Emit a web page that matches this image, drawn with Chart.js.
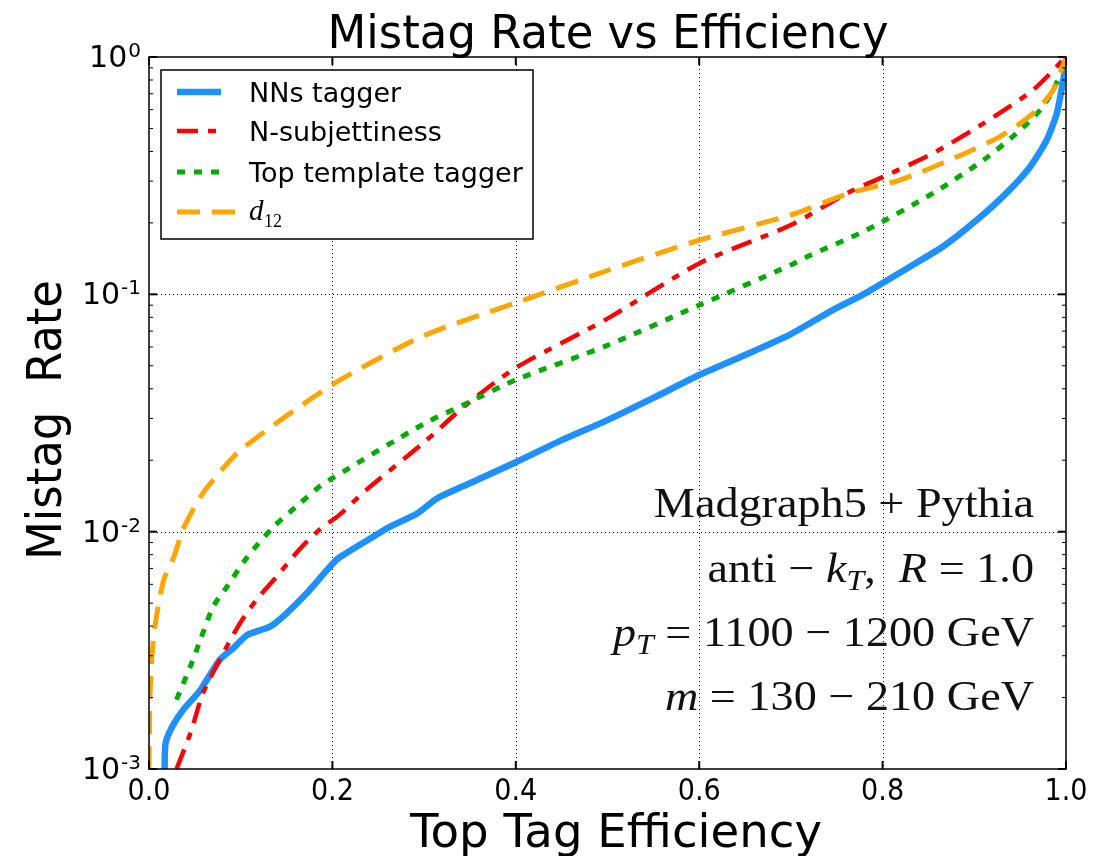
<!DOCTYPE html>
<html lang="en">
<head>
    <meta charset="UTF-8">
    <title>Mistag Rate vs Efficiency</title>
    <script src="https://cdn.jsdelivr.net/npm/chart.js"></script>
    <style>
        * {
            margin: 0;
            padding: 0;
            box-sizing: border-box;
        }
        body {
            background: #fff;
            width: 1107px;
            height: 856px;
            overflow: hidden;
        }
        canvas {
            display: block;
        }
    </style>
</head>
<body>
    <canvas id="rocChart" width="1107" height="856"></canvas>

    <script>
        // NNs tagger
        const nnsEff = [0.017, 0.018, 0.025, 0.037, 0.056, 0.077, 0.092, 0.107, 0.132, 0.150, 0.172, 0.197, 0.208,
            0.244, 0.263, 0.292, 0.314, 0.35, 0.40, 0.45, 0.50, 0.55, 0.60, 0.65, 0.70, 0.746, 0.779, 0.83,
            0.866, 0.903, 0.935, 0.961, 0.979, 0.990, 0.997, 1.0];
        const nnsMistag = [0.00100, 0.00128, 0.00150, 0.00177, 0.00215, 0.00288, 0.00323, 0.00367, 0.00398, 0.00453,
            0.0055, 0.0071, 0.0078, 0.0095, 0.0105, 0.0119, 0.0138, 0.0160, 0.0196, 0.0243, 0.0295, 0.0366,
            0.0457, 0.0555, 0.068, 0.086, 0.100, 0.131, 0.159, 0.206, 0.267, 0.345, 0.447, 0.579, 0.80, 0.94];

        // N-subjettiness
        const nsubEff = [0.030, 0.045, 0.059, 0.077, 0.099, 0.117, 0.139, 0.165, 0.186, 0.208, 0.237, 0.30, 0.345,
            0.40, 0.50, 0.60, 0.70, 0.764, 0.801, 0.855, 0.91, 0.964, 1.0];
        const nsubMistag = [0.00100, 0.00141, 0.00209, 0.00288, 0.0041, 0.00515, 0.00645, 0.0085, 0.0102, 0.0118,
            0.0150, 0.0238, 0.034, 0.049, 0.079, 0.135, 0.196, 0.27, 0.313, 0.393, 0.525, 0.726, 1.0];

        // Top template tagger
        const templEff = [0.030, 0.045, 0.056, 0.070, 0.085, 0.107, 0.136, 0.165, 0.186, 0.20, 0.30, 0.345, 0.40,
            0.50, 0.60, 0.70, 0.721, 0.783, 0.855, 0.91, 0.946, 0.972, 0.986, 0.997, 1.0];
        const templMistag = [0.00196, 0.0027, 0.0035, 0.00483, 0.00586, 0.0078, 0.0105, 0.0132, 0.0155, 0.0168,
            0.0285, 0.0345, 0.0436, 0.061, 0.090, 0.133, 0.146, 0.187, 0.267, 0.368, 0.477, 0.598, 0.726, 0.91, 1.0];

        // d12
        const d12Eff = [0.0, 0.001, 0.003, 0.0065, 0.016, 0.027, 0.037, 0.056, 0.07, 0.10, 0.20, 0.30, 0.40, 0.50,
            0.60, 0.70, 0.764, 0.819, 0.873, 0.928, 0.964, 0.986, 1.0];
        const d12Mistag = [0.00100, 0.0020, 0.0029, 0.0040, 0.00625, 0.0078, 0.0102, 0.0140, 0.0165, 0.0221, 0.0416,
            0.067, 0.092, 0.126, 0.169, 0.216, 0.267, 0.303, 0.368, 0.462, 0.579, 0.726, 1.0];

        const xTicks = [0.0, 0.2, 0.4, 0.6, 0.8, 1.0];
        const yTicks = [1, 0.1, 0.01, 0.001];
        const yTickExp = ['0', '-1', '-2', '-3'];

        const SANS = '"DejaVu Sans", sans-serif';
        const SERIF = '"Liberation Serif", serif';

        const toPoints = (xs, ys) => xs.map((x, i) => ({ x: x, y: ys[i] }));

        // text lines in the lower right corner: [text, style]
        const notes = [
            [['Madgraph5 + Pythia', 'r']],
            [['anti \u2212 ', 'r'], ['k', 'i'], ['T', 'sub'], [',  ', 'r'], ['R', 'i'], [' = 1.0', 'r']],
            [['p', 'i'], ['T', 'sub'], [' = 1100 \u2212 1200 GeV', 'r']],
            [['m', 'i'], [' = 130 \u2212 210 GeV', 'r']]
        ];
        const noteBaselines = [517, 582, 646, 710];

        // mixed roman / italic / subscript line, right aligned, stretched a little
        function drawRich(ctx, parts, right, baseline, size, stretch) {
            const fontFor = k => k === 'r' ? `${size}px ${SERIF}`
                : k === 'i' ? `italic ${size}px ${SERIF}`
                : `italic ${Math.round(size * 0.7)}px ${SERIF}`;
            let width = 0;
            parts.forEach(([t, k]) => { ctx.font = fontFor(k); width += ctx.measureText(t).width; });
            ctx.save();
            ctx.translate(right, 0);
            ctx.scale(stretch, 1);
            let x = -width;
            parts.forEach(([t, k]) => {
                ctx.font = fontFor(k);
                ctx.fillText(t, x, k === 'sub' ? baseline + size * 0.2 : baseline);
                x += ctx.measureText(t).width;
            });
            ctx.restore();
        }

        function seg(ctx, x1, y1, x2, y2) {
            ctx.beginPath();
            ctx.moveTo(x1, y1);
            ctx.lineTo(x2, y2);
            ctx.stroke();
        }

        // frame, ticks, grid, labels, legend (matplotlib style)
        const axesDecor = {
            id: 'axesDecor',
            beforeDatasetsDraw(chart) {
                const { ctx, chartArea: a, scales: { x, y } } = chart;
                ctx.save();
                ctx.strokeStyle = '#000';
                ctx.lineWidth = 1;
                ctx.setLineDash([1, 3]);
                xTicks.slice(1, -1).forEach(v => {
                    const px = Math.round(x.getPixelForValue(v)) + 0.5;
                    seg(ctx, px, a.top, px, a.bottom);
                });
                yTicks.slice(1, -1).forEach(v => {
                    const py = Math.round(y.getPixelForValue(v)) + 0.5;
                    seg(ctx, a.left, py, a.right, py);
                });
                ctx.restore();
            },
            afterDraw(chart) {
                const { ctx, chartArea: a, scales: { x, y } } = chart;
                ctx.save();
                ctx.strokeStyle = '#000';
                ctx.fillStyle = '#000';

                // ticks
                ctx.lineWidth = 2;
                xTicks.forEach(v => {
                    const px = x.getPixelForValue(v);
                    seg(ctx, px, a.bottom, px, a.bottom - 8);
                    seg(ctx, px, a.top, px, a.top + 8);
                });
                yTicks.forEach(v => {
                    const py = y.getPixelForValue(v);
                    seg(ctx, a.left, py, a.left + 8, py);
                    seg(ctx, a.right, py, a.right - 8, py);
                });
                ctx.lineWidth = 1;
                [0.001, 0.01, 0.1].forEach(d => {
                    for (let k = 2; k <= 9; k++) {
                        const py = y.getPixelForValue(k * d);
                        seg(ctx, a.left, py, a.left + 4, py);
                        seg(ctx, a.right, py, a.right - 4, py);
                    }
                });

                // frame
                ctx.lineWidth = 1.5;
                ctx.strokeRect(a.left, a.top, a.right - a.left, a.bottom - a.top);

                // x tick labels
                ctx.textAlign = 'center';
                ctx.textBaseline = 'alphabetic';
                ctx.font = `30px ${SANS}`;
                xTicks.forEach(v => {
                    ctx.fillText(v.toFixed(1), x.getPixelForValue(v), 800, 43);
                });

                // y tick labels 10^n
                yTicks.forEach((v, i) => {
                    const py = y.getPixelForValue(v);
                    ctx.textAlign = 'right';
                    ctx.font = `20px ${SANS}`;
                    const expW = ctx.measureText(yTickExp[i]).width;
                    ctx.fillText(yTickExp[i], 141, py);
                    ctx.font = `30px ${SANS}`;
                    ctx.fillText('10', 141 - expW - 1, py + 10);
                });

                // titles
                ctx.textAlign = 'center';
                ctx.font = `46px ${SANS}`;
                ctx.fillText('Mistag Rate vs Efficiency', 608, 48, 561);
                ctx.font = `47px ${SANS}`;
                ctx.fillText('Top Tag Efficiency', 616, 847, 412);
                ctx.save();
                ctx.translate(61, 420);
                ctx.rotate(-Math.PI / 2);
                ctx.font = `48px ${SANS}`;
                ctx.fillText('Mistag  Rate', 0, 0, 280);
                ctx.restore();

                // legend
                ctx.fillStyle = '#fff';
                ctx.fillRect(161, 70, 372, 169);
                ctx.lineWidth = 1.5;
                ctx.strokeRect(161, 70, 372, 169);
                const rows = [92, 131, 172, 212];
                chart.data.datasets.forEach((ds, i) => {
                    ctx.save();
                    ctx.strokeStyle = ds.borderColor;
                    ctx.lineWidth = ds.borderWidth;
                    ctx.setLineDash(ds.borderDash || []);
                    seg(ctx, 177, rows[i], i === 3 ? 236 : 221, rows[i]);
                    ctx.restore();
                    ctx.fillStyle = '#000';
                    ctx.textAlign = 'left';
                    if (i === 3) {
                        ctx.font = `italic 29px ${SERIF}`;
                        ctx.fillText('d', 249, rows[i] + 8);
                        ctx.font = `18px ${SERIF}`;
                        ctx.fillText('12', 264, rows[i] + 15);
                    } else {
                        ctx.font = `27px ${SANS}`;
                        ctx.fillText(ds.label, 249, rows[i] + 10);
                    }
                });

                // run info
                ctx.fillStyle = '#111';
                ctx.textAlign = 'left';
                notes.forEach((parts, i) => drawRich(ctx, parts, 1034, noteBaselines[i], 42, 1.1));

                ctx.restore();
            }
        };

        new Chart(document.getElementById('rocChart'), {
            type: 'line',
            data: {
                datasets: [
                    { label: 'NNs tagger', data: toPoints(nnsEff, nnsMistag), borderColor: '#1e90ff',
                        borderWidth: 6.5, borderJoinStyle: 'round', tension: 0.2, order: 3 },
                    { label: 'N-subjettiness', data: toPoints(nsubEff, nsubMistag), borderColor: '#ff0000',
                        borderWidth: 4.5, borderDash: [21, 10, 8, 10], tension: 0.25, order: 2 },
                    { label: 'Top template tagger', data: toPoints(templEff, templMistag), borderColor: '#00aa00',
                        borderWidth: 5, borderDash: [8, 9], tension: 0.25, order: 1 },
                    { label: 'd12', data: toPoints(d12Eff, d12Mistag), borderColor: '#ffa500',
                        borderWidth: 5, borderDash: [23, 12], tension: 0.25, order: 0 }
                ]
            },
            options: {
                responsive: false,
                animation: false,
                devicePixelRatio: 1,
                elements: { point: { radius: 0 } },
                layout: { padding: { left: 149, top: 57, right: 41, bottom: 87 } },
                plugins: {
                    legend: { display: false },
                    tooltip: { enabled: false }
                },
                scales: {
                    x: { type: 'linear', min: 0, max: 1, display: false },
                    y: { type: 'logarithmic', min: 0.001, max: 1, display: false }
                }
            },
            plugins: [axesDecor]
        });
    </script>
</body>
</html>
